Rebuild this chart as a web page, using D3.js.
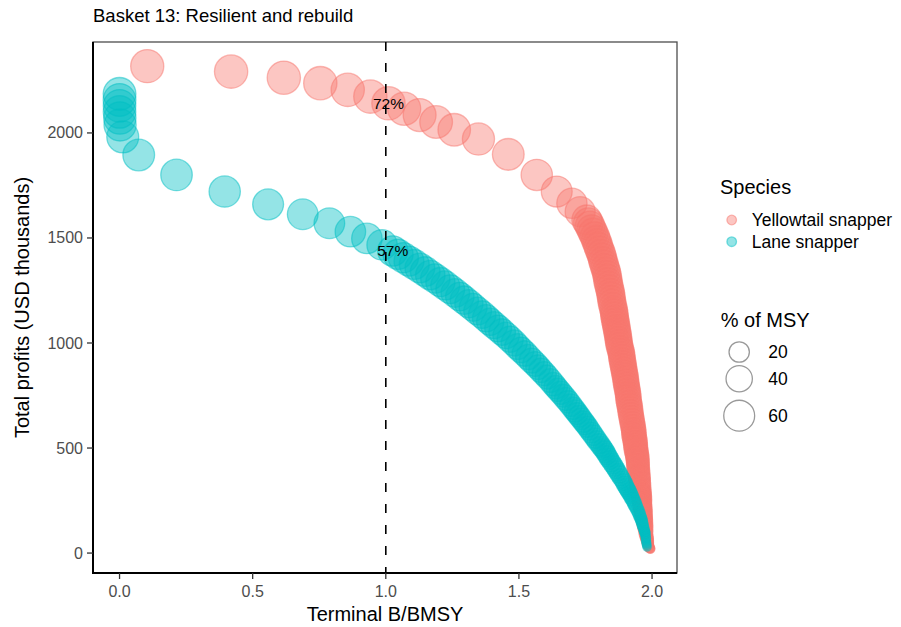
<!DOCTYPE html>
<html>
<head>
<meta charset="utf-8">
<script src="https://cdn.jsdelivr.net/npm/d3@7"></script>
<style>
  body { margin: 0; background: #fff; }
  text { font-family: "Liberation Sans", Arial, Helvetica, sans-serif; }
</style>
</head>
<body>
<svg id="chart" width="901" height="627"></svg>
<script>
// ---- data -------------------------------------------------------------
const chartTitle = "Basket 13: Resilient and rebuild";
const species = ["Yellowtail snapper", "Lane snapper"];
const speciesColors = ["#F8766D", "#00BFC4"];

// Yellowtail snapper: terminal B/BMSY, total profits (USD thousands), catch as % of MSY
const yellowtailB = [
  0.104, 0.419, 0.617, 0.754, 0.857, 0.942, 1.010, 1.069, 1.127, 1.189,
  1.257, 1.348, 1.460, 1.567, 1.642, 1.699, 1.730,
  1.755, 1.761, 1.767, 1.773, 1.779, 1.785, 1.790, 1.795, 1.799, 1.804,
  1.809, 1.813, 1.816, 1.820, 1.824, 1.828, 1.831, 1.833, 1.835, 1.838,
  1.841, 1.844, 1.846, 1.848, 1.850, 1.853, 1.856, 1.858, 1.859, 1.861,
  1.863, 1.865, 1.867, 1.869, 1.871, 1.873, 1.874, 1.876, 1.878, 1.881,
  1.884, 1.886, 1.887, 1.889, 1.891, 1.893, 1.895, 1.897, 1.899, 1.901,
  1.902, 1.904, 1.906, 1.908, 1.910, 1.911, 1.912, 1.914, 1.916, 1.918,
  1.919, 1.921, 1.923, 1.925, 1.927, 1.929, 1.931, 1.932, 1.932, 1.934,
  1.936, 1.937, 1.938, 1.939, 1.940, 1.942, 1.944, 1.945, 1.946, 1.947,
  1.947, 1.948, 1.949, 1.950, 1.951, 1.952, 1.953, 1.954, 1.955, 1.956,
  1.957, 1.958, 1.959, 1.960, 1.961, 1.962, 1.962, 1.963, 1.964, 1.965,
  1.966, 1.967, 1.968, 1.969, 1.970, 1.971, 1.972, 1.973, 1.974, 1.975,
  1.976, 1.977, 1.977, 1.979, 1.981, 1.982, 1.983, 1.984, 1.985, 1.986,
  1.987, 1.989, 1.991, 1.993, 1.994
];
const yellowtailProfit = [
  2318, 2292, 2263, 2237, 2205, 2173, 2141, 2115, 2085, 2052,
  2015, 1971, 1898, 1800, 1721, 1665, 1625,
  1586, 1572, 1557, 1540, 1524, 1507, 1490, 1474, 1457, 1440,
  1424, 1407, 1390, 1374, 1357, 1340, 1324, 1307, 1290, 1274,
  1257, 1240, 1224, 1207, 1190, 1174, 1157, 1143, 1129, 1114,
  1100, 1086, 1071, 1057, 1043, 1029, 1014, 1000, 986, 971,
  957, 943, 929, 914, 900, 886, 871, 857, 843, 829,
  814, 800, 786, 771, 757, 743, 729, 714, 700, 686,
  671, 657, 643, 629, 614, 600, 586, 574, 562, 550,
  538, 526, 514, 502, 490, 478, 467, 455, 443, 431,
  419, 407, 395, 383, 371, 360, 348, 336, 324, 312,
  300, 290, 281, 272, 262, 252, 243, 234, 224, 214,
  205, 196, 186, 176, 167, 158, 148, 138, 129, 120,
  110, 100, 90, 80, 71, 64, 57, 50, 43, 38,
  32, 28, 24, 22, 20
];
const yellowtailMSY = [
  71, 72, 72, 72, 72, 72, 72, 71, 70, 69,
  68, 66, 64, 62, 60, 57, 56,
  55, 54.5, 54, 53.5, 53, 52.5, 52, 51.5, 51, 50.5,
  50, 49.8, 49.5, 49.2, 49, 48.8, 48.5, 48.2, 48, 47.5,
  47, 46.8, 46.5, 46.2, 46, 45.5, 45, 44.8, 44.5, 44.2,
  44, 43.5, 43, 42.8, 42.5, 42.2, 42, 41.8, 41.5, 41.2,
  41, 40.8, 40.5, 40.2, 40, 39.5, 39, 38.8, 38.5, 38.2,
  38, 37.8, 37.5, 37.2, 37, 36.8, 36.5, 36.2, 36, 35.5,
  35, 34.8, 34.5, 34.2, 34, 33.5, 33, 32.8, 32.5, 32.2,
  32, 31.5, 31, 30.5, 30, 29.5, 29, 28.5, 28, 27.5,
  27, 26.5, 26, 25.5, 25, 24.5, 24, 23.2, 22.5, 21.8,
  21, 20.5, 20, 19.5, 19, 18.2, 17.5, 16.8, 16, 15.2,
  14.5, 13.8, 13, 12.2, 11.5, 10.8, 10, 9.2, 8.5, 7.8,
  7, 6.2, 5.5, 5, 4.5, 4, 3.5, 3, 2.5, 2.1,
  1.8, 1.5, 1.2, 1, 0.8
];

// Lane snapper
const laneB = [
  0.000, 0.000, 0.000, 0.000, 0.001, 0.002, 0.012, 0.072, 0.214, 0.395,
  0.558, 0.688, 0.788, 0.867, 0.929, 0.986,
  1.026, 1.046, 1.066, 1.087, 1.107, 1.128, 1.148, 1.167, 1.186, 1.205,
  1.223, 1.242, 1.261, 1.278, 1.295, 1.312, 1.328, 1.345, 1.362, 1.377,
  1.392, 1.407, 1.422, 1.437, 1.452, 1.467, 1.482, 1.495, 1.508, 1.522,
  1.535, 1.548, 1.561, 1.572, 1.583, 1.595, 1.606, 1.618, 1.629, 1.638,
  1.647, 1.657, 1.666, 1.676, 1.685, 1.695, 1.704, 1.712, 1.719, 1.727,
  1.734, 1.742, 1.749, 1.757, 1.764, 1.772, 1.779, 1.787, 1.794, 1.802,
  1.809, 1.815, 1.821, 1.826, 1.831, 1.837, 1.842, 1.848, 1.854, 1.860,
  1.865, 1.871, 1.876, 1.882, 1.888, 1.893, 1.897, 1.902, 1.906, 1.910,
  1.914, 1.918, 1.921, 1.925, 1.929, 1.933, 1.936, 1.940, 1.944, 1.948,
  1.951, 1.954, 1.957, 1.959, 1.961, 1.963, 1.964, 1.966, 1.968, 1.970,
  1.972, 1.973, 1.974, 1.975, 1.976, 1.977, 1.977, 1.978, 1.979, 1.980,
  1.981
];
const laneProfit = [
  2186, 2157, 2129, 2100, 2071, 2038, 1981, 1895, 1800, 1721,
  1660, 1613, 1570, 1530, 1498, 1467,
  1438, 1422, 1406, 1390, 1374, 1357, 1340, 1323, 1307, 1290,
  1274, 1256, 1238, 1221, 1204, 1187, 1170, 1152, 1135, 1118,
  1101, 1085, 1069, 1052, 1036, 1018, 1000, 983, 967, 950,
  933, 916, 900, 885, 870, 854, 838, 821, 804, 790,
  777, 763, 749, 734, 720, 704, 689, 676, 664, 651,
  639, 626, 614, 601, 588, 574, 561, 547, 534, 521,
  508, 498, 488, 477, 466, 454, 443, 431, 420, 408,
  397, 385, 374, 361, 349, 338, 327, 316, 306, 297,
  288, 279, 270, 260, 251, 240, 230, 219, 208, 197,
  187, 177, 168, 160, 152, 144, 136, 128, 120, 111,
  103, 99, 95, 87, 79, 70, 62, 53, 45, 37,
  29
];
const laneMSY = [
  69, 69, 68, 68, 67, 66, 65, 64, 63, 62,
  60, 59, 59, 58, 58, 57.5,
  57, 56.5, 56, 55.5, 55, 54.5, 54, 53.2, 52.5, 51.8,
  51, 50.2, 49.5, 48.8, 48, 47.2, 46.5, 45.8, 45, 44.2,
  43.5, 42.8, 42, 41.2, 40.5, 39.8, 39, 38.2, 37.5, 36.8,
  36, 35.2, 34.5, 33.8, 33, 32.2, 31.5, 30.8, 30, 29.5,
  29, 28.5, 28, 27.5, 27, 26.5, 26, 25.5, 25, 24.5,
  24, 23.5, 23, 22.5, 22, 21.5, 21, 20.5, 20, 19.5,
  19, 18.5, 18, 17.5, 17, 16.5, 16, 15.5, 15, 14.5,
  14, 13.5, 13, 12.5, 12, 11.5, 11, 10.5, 10, 9.5,
  9, 8.5, 8, 7.5, 7, 6.5, 6, 5.5, 5, 4.6,
  4.3, 4, 3.7, 3.4, 3.1, 2.8, 2.6, 2.4, 2.2, 2,
  1.8, 1.6, 1.5, 1.3, 1.2, 1.1, 1, 0.9, 0.8, 0.7,
  0.6
];

const xTicks = [0, 0.5, 1, 1.5, 2];
const yTicks = [0, 500, 1000, 1500, 2000];
const sizeBreaks = [20, 40, 60];
const referenceB = 1;  // B = BMSY reference line

// ---- assemble records ---------------------------------------------------
const series = [
  { name: species[0], color: speciesColors[0], B: yellowtailB, profit: yellowtailProfit, msy: yellowtailMSY },
  { name: species[1], color: speciesColors[1], B: laneB, profit: laneProfit, msy: laneMSY }
];
const points = series.flatMap(s => s.B.map((b, i) => ({
  species: s.name, color: s.color, b, profit: s.profit[i], msy: s.msy[i]
})));

// ---- layout -------------------------------------------------------------
const panel = { left: 93, right: 677, top: 42, bottom: 573 };
const svg = d3.select("#chart");

// ggplot-style 5% expansion of the data range
function expand(ext, f = 0.05) {
  const d = (ext[1] - ext[0]) * f;
  return [ext[0] - d, ext[1] + d];
}
const x = d3.scaleLinear()
  .domain(expand(d3.extent(points, d => d.b)))
  .range([panel.left, panel.right]);
const y = d3.scaleLinear()
  .domain(expand(d3.extent(points, d => d.profit)))
  .range([panel.bottom, panel.top]);
const size = d3.scaleSqrt()
  .domain([0, d3.max(points, d => d.msy)])
  .range([3.6, 17.3]);

const pointAlpha = 0.42;
const strokeW = 1.3;

// clip to panel
svg.append("defs").append("clipPath").attr("id", "panelClip")
  .append("rect")
  .attr("x", panel.left).attr("y", panel.top)
  .attr("width", panel.right - panel.left).attr("height", panel.bottom - panel.top);

// panel border
svg.append("rect")
  .attr("x", panel.left).attr("y", panel.top)
  .attr("width", panel.right - panel.left).attr("height", panel.bottom - panel.top)
  .attr("fill", "none").attr("stroke", "#4d4d4d").attr("stroke-width", 1.3);

const plotG = svg.append("g").attr("clip-path", "url(#panelClip)");

// points
plotG.append("g").selectAll("circle")
  .data(points)
  .join("circle")
  .attr("cx", d => x(d.b))
  .attr("cy", d => y(d.profit))
  .attr("r", d => size(d.msy) - strokeW / 2)
  .attr("fill", d => d.color).attr("fill-opacity", pointAlpha)
  .attr("stroke", d => d.color).attr("stroke-opacity", pointAlpha + 0.08)
  .attr("stroke-width", strokeW);

// reference line at B/BMSY = 1
plotG.append("line")
  .attr("x1", x(referenceB)).attr("x2", x(referenceB))
  .attr("y1", panel.top).attr("y2", panel.bottom)
  .attr("stroke", "#000").attr("stroke-width", 1.6)
  .attr("stroke-dasharray", "9,12");

// % of MSY labels at the first point reaching B/BMSY >= 1
series.forEach(s => {
  const i = s.B.findIndex(b => b >= referenceB);
  plotG.append("text")
    .attr("x", x(s.B[i])).attr("y", y(s.profit[i]))
    .attr("text-anchor", "middle").attr("dominant-baseline", "central")
    .attr("font-size", 15.5).attr("fill", "#000")
    .text(`${s.msy[i]}%`);
});

// axes
const axisG = svg.append("g");
axisG.append("line")
  .attr("x1", panel.left).attr("x2", panel.left)
  .attr("y1", panel.top).attr("y2", panel.bottom + 1)
  .attr("stroke", "#000").attr("stroke-width", 2);
axisG.append("line")
  .attr("x1", panel.left - 1).attr("x2", panel.right)
  .attr("y1", panel.bottom).attr("y2", panel.bottom)
  .attr("stroke", "#000").attr("stroke-width", 2);

const tickColor = "#333333";
const labelColor = "#4d4d4d";
const tickFont = 16;

yTicks.forEach(v => {
  axisG.append("line")
    .attr("x1", panel.left - 6).attr("x2", panel.left)
    .attr("y1", y(v)).attr("y2", y(v))
    .attr("stroke", tickColor).attr("stroke-width", 1.3);
  axisG.append("text")
    .attr("x", panel.left - 10).attr("y", y(v))
    .attr("text-anchor", "end").attr("dominant-baseline", "central")
    .attr("font-size", tickFont).attr("fill", labelColor)
    .text(d3.format("d")(v));
});
xTicks.forEach(v => {
  axisG.append("line")
    .attr("x1", x(v)).attr("x2", x(v))
    .attr("y1", panel.bottom).attr("y2", panel.bottom + 6)
    .attr("stroke", tickColor).attr("stroke-width", 1.3);
  axisG.append("text")
    .attr("x", x(v)).attr("y", panel.bottom + 24)
    .attr("text-anchor", "middle")
    .attr("font-size", tickFont).attr("fill", labelColor)
    .text(d3.format(".1f")(v));
});

// axis titles
svg.append("text")
  .attr("x", (panel.left + panel.right) / 2).attr("y", 621)
  .attr("text-anchor", "middle").attr("font-size", 20).attr("fill", "#000")
  .text("Terminal B/BMSY");
svg.append("text")
  .attr("transform", `translate(29,${(panel.top + panel.bottom) / 2}) rotate(-90)`)
  .attr("text-anchor", "middle").attr("font-size", 20).attr("fill", "#000")
  .text("Total profits (USD thousands)");

// title
svg.append("text")
  .attr("x", panel.left).attr("y", 22)
  .attr("font-size", 18.5).attr("fill", "#000")
  .text(chartTitle);

// ---- legends ------------------------------------------------------------
const legX = 720;
const legendTitleFont = 20;
const legendLabelFont = 17.5;

svg.append("text").attr("x", legX).attr("y", 194)
  .attr("font-size", legendTitleFont).attr("fill", "#000").text("Species");

const speciesKeyY = [220, 241.7];
series.forEach((s, i) => {
  svg.append("circle")
    .attr("cx", 731.7).attr("cy", speciesKeyY[i]).attr("r", 4.8)
    .attr("fill", s.color).attr("fill-opacity", pointAlpha)
    .attr("stroke", s.color).attr("stroke-opacity", pointAlpha + 0.08).attr("stroke-width", strokeW);
  svg.append("text")
    .attr("x", 751.7).attr("y", speciesKeyY[i])
    .attr("dominant-baseline", "central")
    .attr("font-size", legendLabelFont).attr("fill", "#000")
    .text(s.name);
});

svg.append("text").attr("x", legX + 0.7).attr("y", 326.5)
  .attr("font-size", legendTitleFont).attr("fill", "#000").text("% of MSY");

const sizeKeyY = [352, 378.7, 415.7];
sizeBreaks.forEach((v, i) => {
  svg.append("circle")
    .attr("cx", 739.2).attr("cy", sizeKeyY[i]).attr("r", size(v) - strokeW / 2)
    .attr("fill", "none")
    .attr("stroke", "#000").attr("stroke-opacity", 0.4).attr("stroke-width", strokeW);
  svg.append("text")
    .attr("x", 768.3).attr("y", sizeKeyY[i])
    .attr("dominant-baseline", "central")
    .attr("font-size", legendLabelFont).attr("fill", "#000")
    .text(v);
});
</script>
</body>
</html>
